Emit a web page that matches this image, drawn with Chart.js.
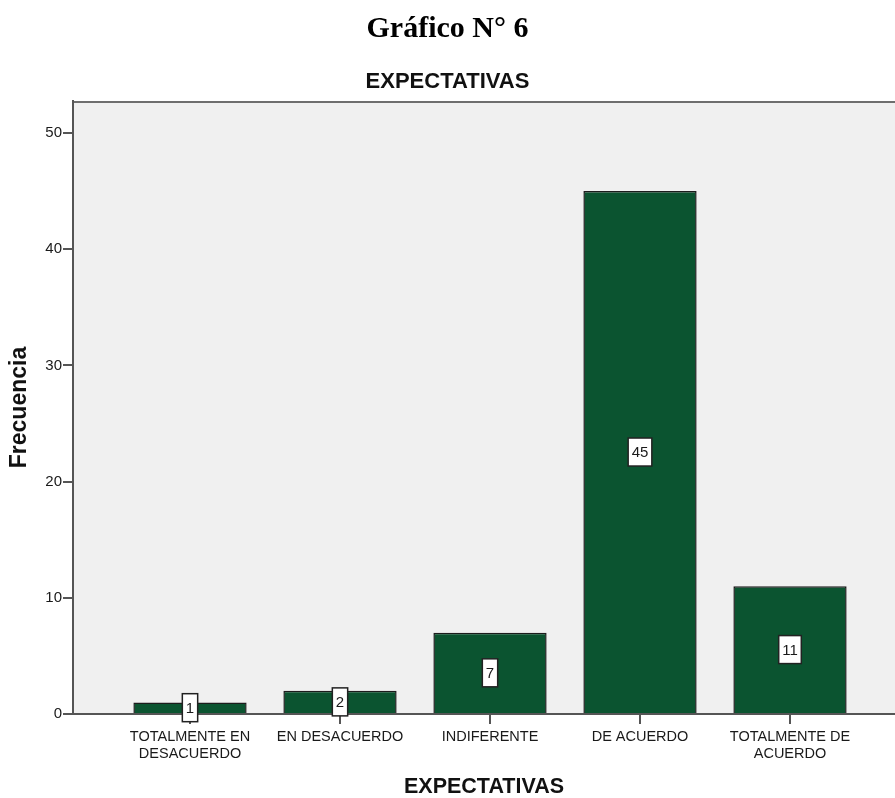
<!DOCTYPE html>
<html lang="es">
<head>
<meta charset="utf-8">
<title>EXPECTATIVAS</title>
<script src="https://cdn.jsdelivr.net/npm/chart.js@4/dist/chart.umd.min.js"></script>
<style>
  html, body { margin: 0; padding: 0; background: #ffffff; }
  #wrap { width: 895px; height: 798px; }
</style>
</head>
<body>
<div id="wrap"><canvas id="chart" width="895" height="798"></canvas></div>
<script>
// Categories on the x axis (multi-line labels)
const categories = [
  ["TOTALMENTE EN", "DESACUERDO"],
  ["EN DESACUERDO"],
  ["INDIFERENTE"],
  ["DE ACUERDO"],
  ["TOTALMENTE DE", "ACUERDO"]
];
// Frequencies for each category
const frecuencias = [1, 2, 7, 45, 11];
// Y axis tick values
const yTicks = [0, 10, 20, 30, 40, 50];

const barColor = '#0b5430';
const frameColor = '#555555';
const textColor = '#1a1a1a';
const sans = '"Liberation Sans", Arial, sans-serif';

// Plot-area background and top frame line
const plotBackground = {
  id: 'plotBackground',
  beforeDraw(chart) {
    const { ctx, chartArea: a } = chart;
    ctx.save();
    ctx.fillStyle = '#f0f0f0';
    ctx.fillRect(a.left, a.top, a.right - a.left, a.bottom - a.top);
    ctx.strokeStyle = '#6e6e6e';
    ctx.lineWidth = 2;
    ctx.beginPath();
    ctx.moveTo(a.left, a.top + 1);
    ctx.lineTo(a.right, a.top + 1);
    ctx.stroke();
    ctx.restore();
  }
};

// Boxed value labels in the middle of each bar
const valueBoxes = {
  id: 'valueBoxes',
  afterDatasetsDraw(chart) {
    const { ctx } = chart;
    const meta = chart.getDatasetMeta(0);
    ctx.save();
    ctx.font = '15px ' + sans;
    ctx.textAlign = 'center';
    ctx.textBaseline = 'middle';
    meta.data.forEach((bar, i) => {
      const txt = String(chart.data.datasets[0].data[i].y);
      const cx = bar.x;
      const cy = (bar.y + bar.base) / 2;
      const w = ctx.measureText(txt).width + 7;
      const h = 28;
      ctx.fillStyle = '#ffffff';
      ctx.fillRect(cx - w / 2, cy - h / 2, w, h);
      ctx.strokeStyle = '#222222';
      ctx.lineWidth = 1.5;
      ctx.strokeRect(cx - w / 2, cy - h / 2, w, h);
      ctx.fillStyle = textColor;
      ctx.fillText(txt, cx, cy + 1);
    });
    ctx.restore();
  }
};

new Chart(document.getElementById('chart'), {
  type: 'bar',
  data: {
    datasets: [{
      label: 'Frecuencia',
      data: frecuencias.map((v, i) => ({ x: i, y: v })),
      backgroundColor: barColor,
      borderColor: '#1c1c1c',
      borderWidth: 1.5,
      barPercentage: 0.755,
      categoryPercentage: 1
    }]
  },
  options: {
    responsive: false,
    animation: false,
    layout: { padding: 0 },
    plugins: {
      legend: { display: false },
      tooltip: { enabled: false },
      title: {
        display: true,
        text: 'Gráfico N° 6',
        color: '#000000',
        font: { family: '"Liberation Serif", "Times New Roman", serif', size: 30, weight: 'bold', lineHeight: 1 },
        padding: { top: 14, bottom: 12 }
      },
      subtitle: {
        display: true,
        text: 'EXPECTATIVAS',
        color: '#111111',
        font: { family: sans, size: 22, weight: 'bold', lineHeight: 1 },
        padding: { top: 15, bottom: 8 }
      }
    },
    scales: {
      x: {
        type: 'linear',
        offset: false,
        min: -0.78,
        max: 4.7,
        afterBuildTicks(scale) { scale.ticks = categories.map((_, i) => ({ value: i })); },
        afterFit(scale) { scale.height = 84; },
        grid: { offset: false, drawOnChartArea: false, drawTicks: true, tickLength: 10, color: frameColor, lineWidth: 2 },
        border: { display: true, color: frameColor, width: 2 },
        ticks: {
          autoSkip: false,
          maxRotation: 0,
          padding: 5,
          color: textColor,
          font: { family: sans, size: 14.5, lineHeight: 1.14 },
          callback: (v) => categories[v]
        },
        title: {
          display: true,
          text: 'EXPECTATIVAS',
          color: '#111111',
          font: { family: sans, size: 21.5, weight: 'bold', lineHeight: 1 },
          padding: { top: 0, bottom: 0 }
        }
      },
      y: {
        min: 0,
        max: 52.75,
        afterBuildTicks(scale) { scale.ticks = yTicks.map(v => ({ value: v })); },
        afterFit(scale) { scale.width = 73; },
        grid: { drawOnChartArea: false, drawTicks: true, tickLength: 10, color: frameColor, lineWidth: 2 },
        border: { display: true, color: frameColor, width: 2 },
        ticks: {
          padding: 1,
          color: textColor,
          font: { family: sans, size: 15 }
        },
        title: {
          display: true,
          text: 'Frecuencia',
          color: '#111111',
          font: { family: sans, size: 23, weight: 'bold', lineHeight: 1 },
          padding: { top: 8, bottom: 0 }
        }
      }
    }
  },
  plugins: [plotBackground, valueBoxes]
});
</script>
</body>
</html>
